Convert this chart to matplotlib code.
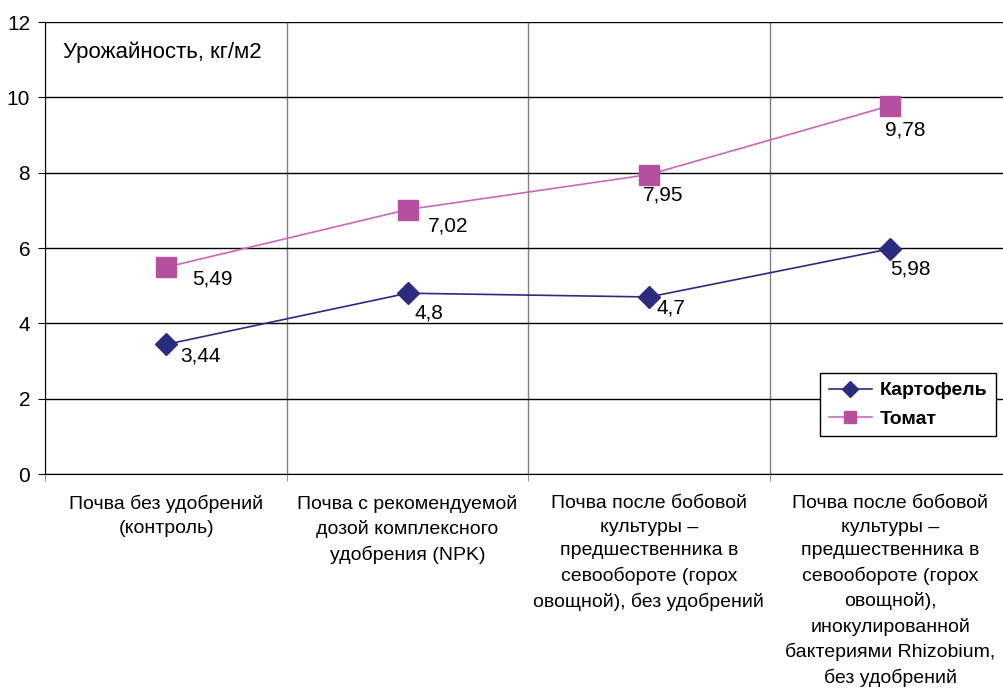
import matplotlib
matplotlib.use("Agg")
import matplotlib.pyplot as plt
from matplotlib.lines import Line2D

plt.rcParams['font.family'] = ['Liberation Sans', 'DejaVu Sans']

categories = [
    "Почва без удобрений\n(контроль)",
    "Почва с рекомендуемой\nдозой комплексного\nудобрения (NPK)",
    "Почва после бобовой\nкультуры –\nпредшественника в\nсевообороте (горох\nовощной), без удобрений",
    "Почва после бобовой\nкультуры –\nпредшественника в\nсевообороте (горох\nовощной),\nинокулированной\nбактериями Rhizobium,\nбез удобрений",
]
potato = [3.44, 4.8, 4.7, 5.98]
tomato = [5.49, 7.02, 7.95, 9.78]
potato_labels = ["3,44", "4,8", "4,7", "5,98"]
tomato_labels = ["5,49", "7,02", "7,95", "9,78"]
y_ticks = [0, 2, 4, 6, 8, 10, 12]
y_title = "Урожайность, кг/м2"

W, H = 1004, 691
fig = plt.figure(figsize=(W / 100, H / 100), dpi=100)
left, right, top, bottom = 45.5, 1011, 22, 474
ax = fig.add_axes([left / W, (H - bottom) / H, (right - left) / W, (bottom - top) / H])

x = list(range(len(categories)))
navy = "#2B2B80"
pink_line = "#CC66BB"
pink_mark = "#B5509F"

ax.plot(x, potato, color=navy, lw=1.2, marker="D", ms=11, mfc=navy, mec=navy, zorder=3)
ax.plot(x, tomato, color=pink_line, lw=1.2, marker="s", ms=14.5, mfc=pink_mark, mec=pink_mark, zorder=3)

# data labels, offset in pixels from each marker
pot_off = [(34, -12), (21, -20), (22, -11), (20, -20)]
tom_off = [(46, -12), (41, -16), (14, -20), (15, -24)]
for xi, v, s, o in zip(x, potato, potato_labels, pot_off):
    ax.annotate(s, (xi, v), xytext=o, textcoords="offset pixels", ha="center", va="center", fontsize=15)
for xi, v, s, o in zip(x, tomato, tomato_labels, tom_off):
    ax.annotate(s, (xi, v), xytext=o, textcoords="offset pixels", ha="center", va="center", fontsize=15)

ax.set_xlim(-0.5, 3.5)
ax.set_ylim(0, 12)
ax.set_yticks(y_ticks)
ax.set_yticklabels([str(t) for t in y_ticks], fontsize=15)
ax.set_xticks(x)
ax.set_xticklabels(categories, fontsize=14, linespacing=1.52, va="top")
ax.set_xticks([-0.5, 0.5, 1.5, 2.5, 3.5], minor=True)
ax.tick_params(axis="x", which="major", length=0, pad=15)
ax.tick_params(axis="x", which="minor", length=5, color="#808080")
ax.tick_params(axis="y", length=5, pad=6)

ax.grid(axis="y", color="black", lw=1.0, zorder=0)
ax.grid(axis="x", which="minor", color="#808080", lw=1.0, zorder=0)
ax.set_axisbelow(True)
for s in ["top", "right"]:
    ax.spines[s].set_visible(False)
ax.spines["left"].set_color("black")
ax.spines["bottom"].set_color("black")

fig.text(63 / W, 1 - 52 / H, y_title, fontsize=16, va="center", ha="left")

handles = [
    Line2D([], [], color=navy, lw=1.2, marker="D", ms=8, mfc=navy, mec=navy),
    Line2D([], [], color=pink_line, lw=1.2, marker="s", ms=9, mfc=pink_mark, mec=pink_mark),
]
leg = fig.legend(handles, ["Картофель", "Томат"], loc="upper left",
                 bbox_to_anchor=(820 / W, 1 - 373 / H),
                 prop={"weight": "bold", "size": 14}, frameon=True, fancybox=False,
                 edgecolor="black", framealpha=1, handlelength=2.2, borderpad=0.45,
                 labelspacing=0.55, handletextpad=0.4, borderaxespad=0)
leg.get_frame().set_linewidth(1.0)

fig.savefig("out.png", dpi=100)
